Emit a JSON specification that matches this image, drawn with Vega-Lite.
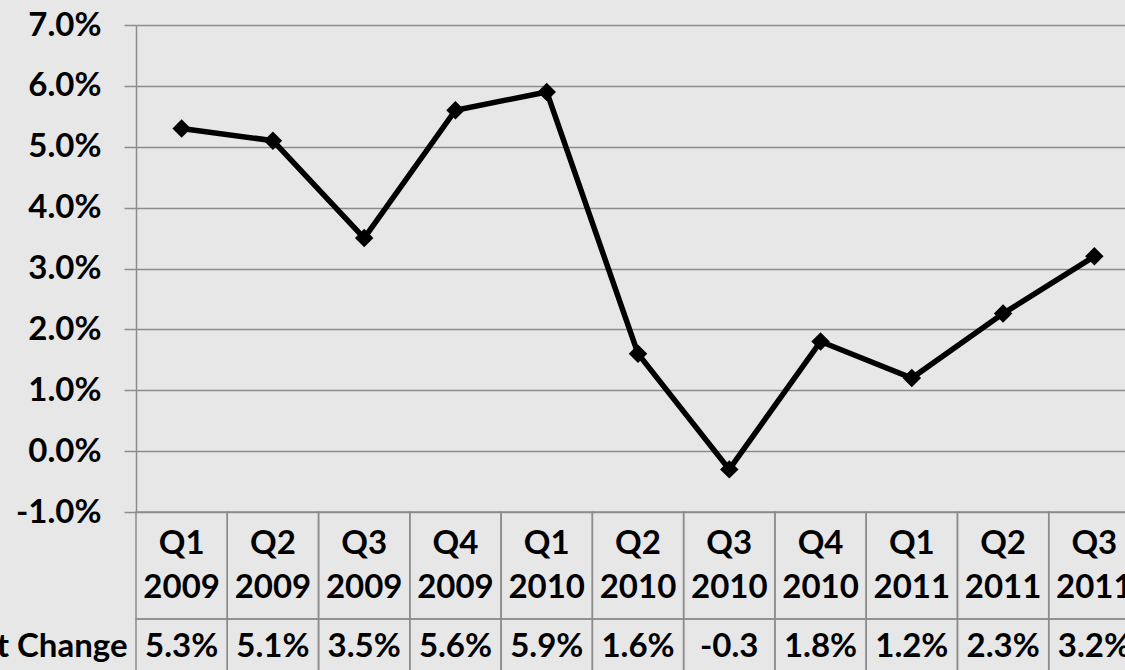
{
  "$schema": "https://vega.github.io/schema/vega-lite/v6.json",
  "background": "#e7e7e7",
  "padding": {"left": -105, "top": 9, "right": -14, "bottom": -5},
  "bounds": "flush",
  "spacing": 0,
  "config": {
    "font": "Lato",
    "view": {"stroke": null},
    "axis": {"labelFont": "Lato", "labelFontWeight": "bold", "labelFontSize": 33, "labelColor": "#000000"}
  },
  "datasets": {
    "q": [
      {"quarter": "Q1 2009", "pct": 0.053, "label": "5.3%"},
      {"quarter": "Q2 2009", "pct": 0.051, "label": "5.1%"},
      {"quarter": "Q3 2009", "pct": 0.035, "label": "3.5%"},
      {"quarter": "Q4 2009", "pct": 0.056, "label": "5.6%"},
      {"quarter": "Q1 2010", "pct": 0.059, "label": "5.9%"},
      {"quarter": "Q2 2010", "pct": 0.016, "label": "1.6%"},
      {"quarter": "Q3 2010", "pct": -0.003, "label": "-0.3"},
      {"quarter": "Q4 2010", "pct": 0.018, "label": "1.8%"},
      {"quarter": "Q1 2011", "pct": 0.012, "label": "1.2%"},
      {"quarter": "Q2 2011", "pct": 0.0226, "label": "2.3%"},
      {"quarter": "Q3 2011", "pct": 0.032, "label": "3.2%"}
    ]
  },
  "vconcat": [
    {
      "width": 1004,
      "height": 487,
      "data": {"name": "q"},
      "encoding": {
        "x": {"field": "quarter", "type": "nominal", "sort": null, "scale": {"type": "band", "paddingInner": 0, "paddingOuter": 0}, "axis": null},
        "y": {
          "field": "pct", "type": "quantitative",
          "scale": {"domain": [-0.01, 0.07], "nice": false, "zero": false},
          "axis": {
            "title": null,
            "values": [-0.01, 0, 0.01, 0.02, 0.03, 0.04, 0.05, 0.06, 0.07],
            "format": ".1%",
            "labelExpr": "replace(datum.label, '\u2212', '-')",
            "grid": true, "gridColor": "#8c8c8c", "gridWidth": 1.5, "gridOpacity": 1,
            "domainColor": "#8c8c8c", "domainWidth": 1.5,
            "tickColor": "#8c8c8c", "tickWidth": 1.5, "tickSize": 12,
            "labelPadding": 23
          }
        }
      },
      "layer": [
        {"mark": {"type": "line", "color": "#000000", "strokeWidth": 5.5}},
        {"mark": {"type": "point", "shape": "diamond", "filled": true, "size": 340, "color": "#000000", "opacity": 1}}
      ]
    },
    {
      "width": 1004,
      "height": 107,
      "data": {"name": "q"},
      "encoding": {
        "x": {"field": "quarter", "type": "nominal", "sort": null, "scale": {"type": "band", "paddingInner": 0, "paddingOuter": 0}, "axis": null},
        "y": {"datum": "header", "type": "nominal", "scale": {"type": "band", "paddingInner": 0, "paddingOuter": 0}, "axis": null}
      },
      "layer": [
        {"mark": {"type": "rect", "filled": false, "stroke": "#8c8c8c", "strokeWidth": 1.5}},
        {"mark": {"type": "text", "lineBreak": " ", "lineHeight": 44, "fontSize": 33, "fontWeight": "bold", "font": "Lato", "color": "#000000", "baseline": "middle", "dy": -22}, "encoding": {"text": {"field": "quarter"}}}
      ]
    },
    {
      "width": 1004,
      "height": 56,
      "data": {"name": "q"},
      "encoding": {
        "x": {"field": "quarter", "type": "nominal", "sort": null, "scale": {"type": "band", "paddingInner": 0, "paddingOuter": 0}, "axis": null},
        "y": {"datum": "Percent Change", "type": "nominal", "scale": {"type": "band", "paddingInner": 0, "paddingOuter": 0},
              "axis": {"title": null, "ticks": false, "domain": false, "labelPadding": 9, "labelLimit": 500}}
      },
      "layer": [
        {"mark": {"type": "rect", "filled": false, "stroke": "#8c8c8c", "strokeWidth": 1.5}},
        {"mark": {"type": "text", "fontSize": 33, "fontWeight": "bold", "font": "Lato", "color": "#000000", "baseline": "middle"}, "encoding": {"text": {"field": "label"}}}
      ]
    }
  ]
}
